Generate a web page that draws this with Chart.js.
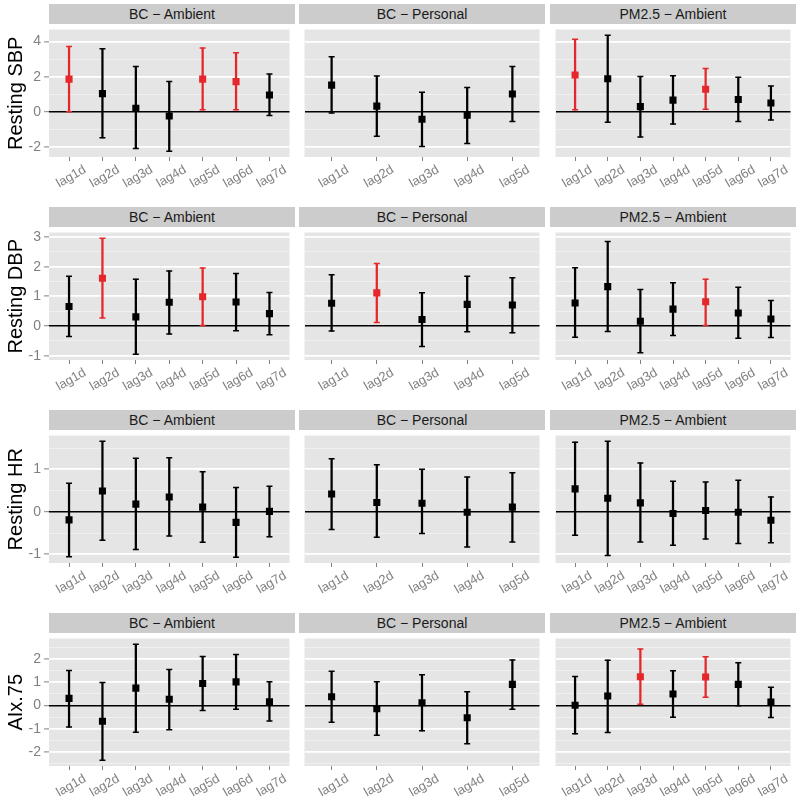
<!DOCTYPE html>
<html>
<head>
<meta charset="utf-8">
<script src="https://cdn.jsdelivr.net/npm/chart.js@4.4.1/dist/chart.umd.min.js"></script>
<style>
  body { margin: 0; background: #fff; width: 800px; height: 799px; position: relative; overflow: hidden;
         font-family: "Liberation Sans", Arial, sans-serif; }
  .strip { position: absolute; height: 20px; line-height: 20px; background: #cccccc; color: #1a1a1a;
           font-size: 14px; text-align: center; }
  canvas { position: absolute; }
</style>
</head>
<body>
<script>
// categories
const lags7 = ['lag1d', 'lag2d', 'lag3d', 'lag4d', 'lag5d', 'lag6d', 'lag7d'];
const lags5 = ['lag1d', 'lag2d', 'lag3d', 'lag4d', 'lag5d'];
const exposures = ['BC \u2212 Ambient', 'BC \u2212 Personal', 'PM2.5 \u2212 Ambient'];
const outcomes = ['Resting SBP', 'Resting DBP', 'Resting HR', 'AIx.75'];
const yMajorStep = [2, 1, 1, 1];

// Resting SBP
const sbpBcAmbEst = [1.87, 1.05, 0.22, -0.22, 1.87, 1.73, 0.97];
const sbpBcAmbLo  = [0.02, -1.46, -2.07, -2.22, 0.13, 0.13, -0.20];
const sbpBcAmbHi  = [3.73, 3.59, 2.59, 1.73, 3.64, 3.37, 2.16];
const sbpBcPersEst = [1.53, 0.34, -0.41, -0.18, 1.03];
const sbpBcPersLo  = [-0.05, -1.37, -1.95, -1.78, -0.54];
const sbpBcPersHi  = [3.14, 2.05, 1.12, 1.39, 2.59];
const sbpPmAmbEst = [2.11, 1.89, 0.31, 0.68, 1.30, 0.72, 0.52];
const sbpPmAmbLo  = [0.13, -0.58, -1.41, -0.68, 0.16, -0.54, -0.45];
const sbpPmAmbHi  = [4.13, 4.36, 2.02, 2.07, 2.47, 1.98, 1.48];

// Resting DBP
const dbpBcAmbEst = [0.66, 1.61, 0.31, 0.80, 0.99, 0.81, 0.42];
const dbpBcAmbLo  = [-0.35, 0.27, -0.95, -0.27, 0.02, -0.16, -0.29];
const dbpBcAmbHi  = [1.68, 2.96, 1.58, 1.86, 1.96, 1.77, 1.13];
const dbpBcPersEst = [0.77, 1.12, 0.22, 0.73, 0.71];
const dbpBcPersLo  = [-0.17, 0.12, -0.69, -0.19, -0.23];
const dbpBcPersHi  = [1.73, 2.11, 1.12, 1.68, 1.63];
const dbpPmAmbEst = [0.78, 1.33, 0.16, 0.57, 0.82, 0.44, 0.24];
const dbpPmAmbLo  = [-0.38, -0.18, -0.90, -0.32, 0.02, -0.41, -0.39];
const dbpPmAmbHi  = [1.97, 2.85, 1.23, 1.46, 1.58, 1.31, 0.86];

// Resting HR
const hrBcAmbEst = [-0.19, 0.49, 0.18, 0.35, 0.11, -0.25, 0.01];
const hrBcAmbLo  = [-1.06, -0.67, -0.89, -0.57, -0.72, -1.07, -0.59];
const hrBcAmbHi  = [0.67, 1.66, 1.26, 1.27, 0.94, 0.57, 0.60];
const hrBcPersEst = [0.42, 0.22, 0.20, -0.01, 0.11];
const hrBcPersLo  = [-0.42, -0.60, -0.51, -0.83, -0.71];
const hrBcPersHi  = [1.25, 1.11, 1.00, 0.82, 0.92];
const hrPmAmbEst = [0.54, 0.32, 0.21, -0.04, 0.03, -0.01, -0.20];
const hrPmAmbLo  = [-0.55, -1.03, -0.71, -0.79, -0.64, -0.75, -0.73];
const hrPmAmbHi  = [1.64, 1.66, 1.15, 0.72, 0.70, 0.74, 0.35];

// AIx.75
const aixBcAmbEst = [0.30, -0.68, 0.74, 0.26, 0.94, 1.01, 0.16];
const aixBcAmbLo  = [-0.93, -2.35, -1.15, -1.04, -0.22, -0.16, -0.67];
const aixBcAmbHi  = [1.50, 0.98, 2.62, 1.54, 2.10, 2.18, 1.01];
const aixBcPersEst = [0.37, -0.14, 0.11, -0.53, 0.90];
const aixBcPersLo  = [-0.72, -1.28, -1.09, -1.64, -0.16];
const aixBcPersHi  = [1.46, 1.01, 1.31, 0.59, 1.95];
const aixPmAmbEst = [0.01, 0.40, 1.23, 0.49, 1.22, 0.90, 0.14];
const aixPmAmbLo  = [-1.22, -1.16, 0.05, -0.51, 0.35, -0.01, -0.52];
const aixPmAmbHi  = [1.24, 1.94, 2.42, 1.49, 2.09, 1.83, 0.78];

const rows = [
  [[lags7, sbpBcAmbEst, sbpBcAmbLo, sbpBcAmbHi], [lags5, sbpBcPersEst, sbpBcPersLo, sbpBcPersHi], [lags7, sbpPmAmbEst, sbpPmAmbLo, sbpPmAmbHi]],
  [[lags7, dbpBcAmbEst, dbpBcAmbLo, dbpBcAmbHi], [lags5, dbpBcPersEst, dbpBcPersLo, dbpBcPersHi], [lags7, dbpPmAmbEst, dbpPmAmbLo, dbpPmAmbHi]],
  [[lags7, hrBcAmbEst, hrBcAmbLo, hrBcAmbHi], [lags5, hrBcPersEst, hrBcPersLo, hrBcPersHi], [lags7, hrPmAmbEst, hrPmAmbLo, hrPmAmbHi]],
  [[lags7, aixBcAmbEst, aixBcAmbLo, aixBcAmbHi], [lags5, aixBcPersEst, aixBcPersLo, aixBcPersHi], [lags7, aixPmAmbEst, aixPmAmbLo, aixPmAmbHi]]
];

// layout
const colLeft = [49, 299, 550];
const rowTop = [24, 227, 430, 633];
const PLOT_W = 246, PLOT_H = 133, X_AXIS_H = 40, Y_AXIS_W = 49, STRIP_H = 20;
const RED = '#e5262a', BLACK = '#000000', GREY = '#808080';

Chart.defaults.font.family = '"Liberation Sans", Arial, sans-serif';

// panel background like ggplot
const panelBg = {
  id: 'panelBg',
  beforeDraw(chart) {
    const a = chart.chartArea, ctx = chart.ctx;
    ctx.save();
    ctx.fillStyle = '#e5e5e5';
    ctx.fillRect(a.left, a.top, a.right - a.left, a.bottom - a.top);
    ctx.restore();
  }
};

function rowRange(r) {
  let lo = Infinity, hi = -Infinity;
  rows[r].forEach(p => { lo = Math.min(lo, ...p[2]); hi = Math.max(hi, ...p[3]); });
  const pad = (hi - lo) * 0.05;
  return [lo - pad, hi + pad];
}

function makePanel(r, c) {
  const [labels, est, lo, hi] = rows[r][c];
  const yW = c === 0 ? Y_AXIS_W : 0;
  const [ymin, ymax] = rowRange(r);
  const major = yMajorStep[r], half = major / 2;
  const gridVals = [];
  for (let v = Math.ceil(ymin / half) * half; v <= ymax; v += half) gridVals.push(Math.round(v * 1000) / 1000);
  const isMajor = v => Math.abs(v / major - Math.round(v / major)) < 1e-6;

  const strip = document.createElement('div');
  strip.className = 'strip';
  strip.style.left = colLeft[c] + 'px';
  strip.style.top = (rowTop[r] - STRIP_H) + 'px';
  strip.style.width = PLOT_W + 'px';
  strip.textContent = exposures[c];
  document.body.appendChild(strip);

  const canvas = document.createElement('canvas');
  canvas.width = PLOT_W + yW;
  canvas.height = PLOT_H + X_AXIS_H;
  canvas.style.left = (colLeft[c] - yW) + 'px';
  canvas.style.top = rowTop[r] + 'px';
  document.body.appendChild(canvas);

  const idx = labels.map((_, i) => i);
  const colors = lo.map(v => v > 0 ? RED : BLACK);

  new Chart(canvas, {
    type: 'scatter',
    data: {
      datasets: [{
        data: idx.map(i => ({ x: i, y: est[i] })),
        pointStyle: 'rect',
        pointRadius: 5,
        backgroundColor: colors,
        borderColor: colors,
        borderWidth: 0
      }, {
        data: idx.map(i => ({ x: i, y: hi[i] })),
        pointStyle: 'line',
        pointRadius: 3,
        borderColor: colors,
        borderWidth: 1.5
      }, {
        data: idx.map(i => ({ x: i, y: lo[i] })),
        pointStyle: 'line',
        pointRadius: 3,
        borderColor: colors,
        borderWidth: 1.5
      }, {
        type: 'bar',
        data: idx.map(i => ({ x: i, y: [lo[i], hi[i]] })),
        backgroundColor: colors,
        barThickness: 1.6,
        borderWidth: 0
      }]
    },
    options: {
      responsive: false,
      animation: false,
      events: [],
      layout: { padding: 0 },
      plugins: { legend: { display: false }, tooltip: { enabled: false } },
      scales: {
        x: {
          type: 'linear',
          offset: false,
          min: -0.6,
          max: labels.length - 0.4,
          afterBuildTicks(s) { s.ticks = idx.map(i => ({ value: i })); },
          afterFit(s) { s.height = X_AXIS_H; s.paddingLeft = 0; s.paddingRight = 0; },
          border: { display: false },
          grid: { offset: false, drawOnChartArea: false, tickLength: 4, tickColor: GREY, tickWidth: 1 },
          ticks: {
            autoSkip: false, minRotation: 30, maxRotation: 30, labelOffset: 16, padding: 1,
            color: GREY, font: { size: 13 },
            callback: v => labels[v]
          }
        },
        y: {
          min: ymin,
          max: ymax,
          afterBuildTicks(s) { s.ticks = gridVals.map(v => ({ value: v })); },
          afterFit(s) { s.width = yW; s.paddingTop = 0; s.paddingBottom = 0; },
          border: { display: false },
          grid: {
            drawTicks: c === 0,
            tickLength: 5,
            color: ctx => Math.abs(ctx.tick.value) < 1e-9 ? '#000000' : (isMajor(ctx.tick.value) ? '#ffffff' : '#f2f2f2'),
            lineWidth: ctx => Math.abs(ctx.tick.value) < 1e-9 ? 1.4 : (isMajor(ctx.tick.value) ? 1.8 : 0.8),
            tickColor: ctx => isMajor(ctx.tick.value) ? GREY : 'rgba(0,0,0,0)',
            tickWidth: 1
          },
          ticks: {
            display: c === 0,
            autoSkip: false,
            padding: 3,
            color: GREY,
            font: { size: 14 },
            callback: v => isMajor(v) ? String(Math.round(v)) : ''
          },
          title: {
            display: c === 0,
            text: outcomes[r],
            color: '#000000',
            font: { size: 20 },
            padding: { top: 4, bottom: 0 }
          }
        }
      }
    },
    plugins: [panelBg]
  });
}

document.addEventListener('DOMContentLoaded', function() {
  for (let r = 0; r < rows.length; r++) {
    for (let c = 0; c < 3; c++) makePanel(r, c);
  }
});
</script>
</body>
</html>
